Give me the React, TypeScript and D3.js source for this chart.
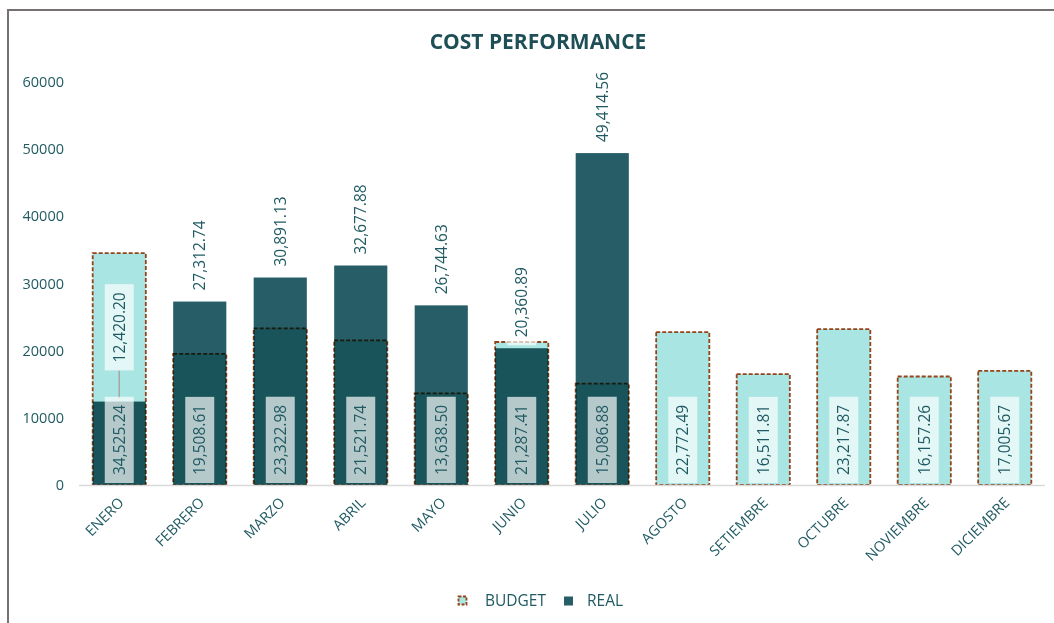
import React, { useEffect, useRef } from 'react';
import * as d3 from 'd3';

const months = ['ENERO', 'FEBRERO', 'MARZO', 'ABRIL', 'MAYO', 'JUNIO', 'JULIO', 'AGOSTO', 'SETIEMBRE', 'OCTUBRE', 'NOVIEMBRE', 'DICIEMBRE'];
const budget = [34525.24, 19508.61, 23322.98, 21521.74, 13638.50, 21287.41, 15086.88, 22772.49, 16511.81, 23217.87, 16157.26, 17005.67];
const real = [12420.20, 27312.74, 30891.13, 32677.88, 26744.63, 20360.89, 49414.56, null, null, null, null, null];
const yTicks = [0, 10000, 20000, 30000, 40000, 50000, 60000];
const seriesNames = ['BUDGET', 'REAL'];

const W = 1054;
const H = 623;
const FONT = '"Open Sans", "Liberation Sans", sans-serif';
const TEXT = '#1F5A62';
const BUDGET_FILL = '#A9E5E3';
const BUDGET_LINE = '#93441A';
const REAL_FILL = '#265D66';

const fmt = d3.format(',.2f');

function App() {
  return (
    <div style={{ position: 'absolute', left: 0, top: 0 }}>
      <CostChart />
    </div>
  );
}

function CostChart() {
  const ref = useRef<SVGSVGElement>(null);

  useEffect(() => {
    if (!ref.current) return;
    const svg = d3.select(ref.current);
    svg.selectAll('*').remove();

    const margin = { top: 82, right: 9, bottom: 138, left: 79 };

    const x = d3.scaleBand<string>()
      .domain(months)
      .range([margin.left, W - margin.right])
      .paddingInner(0.34)
      .paddingOuter(0.17);

    const y = d3.scaleLinear()
      .domain([0, 60000])
      .range([H - margin.bottom, margin.top]);

    // outer frame (only top / left visible)
    svg.append('rect')
      .attr('x', 8)
      .attr('y', 10)
      .attr('width', W + 20)
      .attr('height', H + 20)
      .attr('fill', 'white')
      .attr('stroke', '#767171')
      .attr('stroke-width', 2);

    // title
    svg.append('text')
      .attr('x', 538)
      .attr('y', 49)
      .attr('text-anchor', 'middle')
      .style('font-family', FONT)
      .style('font-size', '21px')
      .style('font-weight', 700)
      .style('fill', '#1E4F57')
      .text('COST PERFORMANCE');

    // y tick labels
    svg.append('g')
      .selectAll('text')
      .data(yTicks)
      .join('text')
      .attr('x', 64)
      .attr('y', d => y(d))
      .attr('dy', '0.35em')
      .attr('text-anchor', 'end')
      .style('font-family', FONT)
      .style('font-size', '14.5px')
      .style('fill', TEXT)
      .text(d => String(d));

    const bw = x.bandwidth();

    // real bars
    svg.append('g')
      .selectAll('rect')
      .data(months.map((m, i) => ({ m, v: real[i] })).filter(d => d.v != null))
      .join('rect')
      .attr('x', d => x(d.m)!)
      .attr('y', d => y(d.v as number))
      .attr('width', bw)
      .attr('height', d => y(0) - y(d.v as number))
      .attr('fill', REAL_FILL);

    // budget bars, drawn on top with multiply blending
    svg.append('g')
      .selectAll('rect')
      .data(months.map((m, i) => ({ m, v: budget[i] })))
      .join('rect')
      .attr('x', d => x(d.m)!)
      .attr('y', d => y(d.v))
      .attr('width', bw)
      .attr('height', d => y(0) - y(d.v))
      .attr('fill', BUDGET_FILL)
      .attr('stroke', BUDGET_LINE)
      .attr('stroke-width', 1.8)
      .attr('stroke-dasharray', '4 2')
      .style('mix-blend-mode', 'multiply');

    // x axis line
    svg.append('line')
      .attr('x1', margin.left)
      .attr('x2', W - margin.right)
      .attr('y1', y(0) + 0.5)
      .attr('y2', y(0) + 0.5)
      .attr('stroke', '#D9D9D9')
      .attr('stroke-width', 1.5);

    // x labels
    svg.append('g')
      .selectAll('text')
      .data(months)
      .join('text')
      .attr('transform', d => `translate(${x(d)! + bw / 2 + 2},${y(0) + 15}) rotate(-45)`)
      .attr('text-anchor', 'end')
      .attr('dy', '0.35em')
      .style('font-family', FONT)
      .style('font-size', '14.5px')
      .style('fill', TEXT)
      .text(d => d);

    const pad = 8;
    const labelLayer = svg.append('g');

    function addLabel(cx: number, cy: number, anchor: string, txt: string) {
      const g = labelLayer.append('g')
        .attr('transform', `translate(${cx},${cy}) rotate(-90)`);
      const t = g.append('text')
        .attr('text-anchor', anchor)
        .attr('dy', '0.35em')
        .style('font-family', FONT)
        .style('font-size', '15.5px')
        .style('fill', TEXT)
        .text(txt);
      const bb = (t.node() as SVGTextElement).getBBox();
      g.insert('rect', 'text')
        .attr('x', bb.x - pad)
        .attr('y', -14.5)
        .attr('width', bb.width + pad * 2)
        .attr('height', 29)
        .attr('fill', 'rgba(255,255,255,0.68)');
      return bb.width;
    }

    // budget labels, inside base
    months.forEach((m, i) => {
      const cx = x(m)! + bw / 2;
      addLabel(cx, y(0) - 10, 'start', fmt(budget[i]));
    });

    // real labels, outside end (or centred with a leader line when it would fall inside the budget bar)
    months.forEach((m, i) => {
      const v = real[i];
      if (v == null) return;
      const cx = x(m)! + bw / 2;
      if (y(v) - 11 > y(budget[i])) {
        const cy = y((v + budget[i]) / 2);
        const len = addLabel(cx, cy, 'middle', fmt(v));
        labelLayer.insert('line', 'g')
          .attr('x1', cx)
          .attr('x2', cx)
          .attr('y1', cy + len / 2 + pad)
          .attr('y2', y(v) - 3)
          .attr('stroke', '#A6A6A6')
          .attr('stroke-width', 1.5);
      } else {
        addLabel(cx, y(v) - 11, 'start', fmt(v));
      }
    });

    // legend
    const legend = svg.append('g').attr('transform', `translate(458,601)`);
    let lx = 0;
    seriesNames.forEach((name, i) => {
      const item = legend.append('g').attr('transform', `translate(${lx},0)`);
      if (i === 0) {
        item.append('rect')
          .attr('x', 0.5).attr('y', -4.5).attr('width', 8).attr('height', 8)
          .attr('fill', BUDGET_FILL)
          .attr('stroke', BUDGET_LINE)
          .attr('stroke-width', 1.8)
          .attr('stroke-dasharray', '3 1.5');
      } else {
        item.append('rect')
          .attr('x', 0).attr('y', -4.5).attr('width', 9).attr('height', 9)
          .attr('fill', REAL_FILL);
      }
      const tx = i === 0 ? 27 : 23;
      const t = item.append('text')
        .attr('x', tx)
        .attr('dy', '0.35em')
        .style('font-family', FONT)
        .style('font-size', '15.5px')
        .style('fill', TEXT)
        .text(name);
      const w = (t.node() as SVGTextElement).getComputedTextLength();
      lx += tx + w + 18;
    });
  }, []);

  return <svg ref={ref} width={W} height={H} style={{ display: 'block' }} />;
}

export default App;
